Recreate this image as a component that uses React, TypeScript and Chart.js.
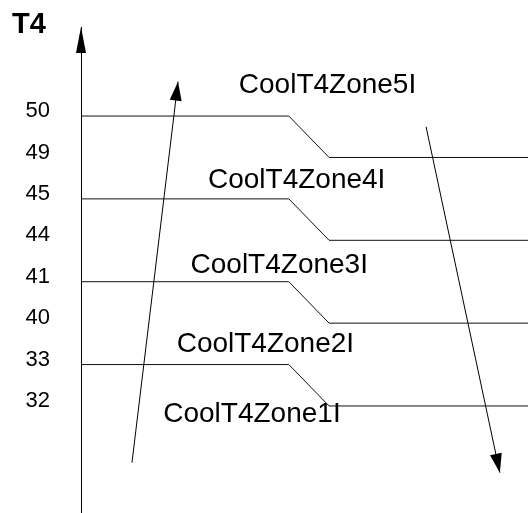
import React, { useEffect, useRef } from 'react';
import { Chart, registerables } from 'chart.js';

Chart.register(...registerables);

// ---- data ----
const tickLabels = ['50', '49', '45', '44', '41', '40', '33', '32'];
const upperLevels = ['50', '45', '41', '33'];
const lowerLevels = ['49', '44', '40', '32'];
const zoneNames = ['CoolT4Zone5I', 'CoolT4Zone4I', 'CoolT4Zone3I', 'CoolT4Zone2I', 'CoolT4Zone1I'];
const axisTitle = 'T4';

// abstract horizontal (time) axis
const X_MIN = 0;
const X_MAX = 100;
const stepStartX = 46.5;
const stepEndX = 55.5;

// rising / falling trend arrows: [x, level-row] start and end
const risingArrow = [
  { x: 11.4, y: 8.37 },
  { x: 21.7, y: -0.83 },
];
const fallingArrow = [
  { x: 77.2, y: 0.26 },
  { x: 93.7, y: 8.61 },
];

// ---- annotation placement (in scale units) ----
const zoneLabelPlacement = [
  { x: 35.3, y: -0.56 },
  { x: 28.4, y: 1.73 },
  { x: 24.5, y: 3.79 },
  { x: 21.4, y: 5.69 },
  { x: 18.4, y: 7.38 },
];

const FONT = "'Liberation Sans', Arial, Helvetica, sans-serif";

const rowOf = (label: string) => tickLabels.indexOf(label);

function drawHead(ctx: CanvasRenderingContext2D, x0: number, y0: number, x1: number, y1: number, len: number, w: number) {
  const dx = x1 - x0;
  const dy = y1 - y0;
  const n = Math.hypot(dx, dy) || 1;
  const ux = dx / n;
  const uy = dy / n;
  const bx = x1 - ux * len;
  const by = y1 - uy * len;
  const px = -uy;
  const py = ux;
  ctx.beginPath();
  ctx.moveTo(x1, y1);
  ctx.lineTo(bx + (px * w) / 2, by + (py * w) / 2);
  ctx.lineTo(bx - (px * w) / 2, by - (py * w) / 2);
  ctx.closePath();
  ctx.fillStyle = '#000';
  ctx.fill();
}

const annotationPlugin = {
  id: 'schematicAnnotations',
  afterDatasetsDraw(chart: any) {
    const { ctx, chartArea } = chart;
    const xs = chart.scales.x;
    const ys = chart.scales.y;
    ctx.save();
    // axis arrowhead
    drawHead(ctx, chartArea.left, chartArea.top + 30, chartArea.left, chartArea.top, 26, 10);
    // trend arrowheads
    chart.data.datasets.forEach((ds: any) => {
      if (!ds.arrowHead) return;
      const pts = ds.data;
      const a = pts[pts.length - 2];
      const b = pts[pts.length - 1];
      drawHead(
        ctx,
        xs.getPixelForValue(a.x),
        ys.getPixelForValue(a.y),
        xs.getPixelForValue(b.x),
        ys.getPixelForValue(b.y),
        19,
        12
      );
    });
    // zone labels
    ctx.fillStyle = '#000';
    ctx.textAlign = 'left';
    ctx.textBaseline = 'alphabetic';
    ctx.font = `28px ${FONT}`;
    zoneNames.forEach((name, i) => {
      const p = zoneLabelPlacement[i];
      ctx.fillText(name, xs.getPixelForValue(p.x), ys.getPixelForValue(p.y));
    });
    // axis title
    ctx.font = `bold 29px ${FONT}`;
    ctx.fillText(axisTitle, 12, 33);
    ctx.restore();
  },
};

export default function App() {
  const canvasRef = useRef<HTMLCanvasElement | null>(null);

  useEffect(() => {
    if (!canvasRef.current) return;

    const thresholdSets = upperLevels.map((up, i) => {
      const lo = lowerLevels[i];
      return {
        label: `${up}/${lo}`,
        data: [
          { x: X_MIN, y: rowOf(up) },
          { x: stepStartX, y: rowOf(up) },
          { x: stepEndX, y: rowOf(lo) },
          { x: X_MAX, y: rowOf(lo) },
        ],
        borderColor: '#111',
        borderWidth: 1,
        pointRadius: 0,
        showLine: true,
        fill: false,
        tension: 0,
      };
    });

    const arrowSets = [risingArrow, fallingArrow].map((pts, i) => ({
      label: i === 0 ? 'rising' : 'falling',
      data: pts,
      borderColor: '#000',
      borderWidth: 1,
      pointRadius: 0,
      showLine: true,
      fill: false,
      tension: 0,
      arrowHead: true,
    }));

    const chart = new Chart(canvasRef.current, {
      type: 'scatter',
      data: { datasets: [...thresholdSets, ...arrowSets] as any },
      options: {
        animation: false,
        responsive: false,
        devicePixelRatio: 1,
        layout: { padding: { top: 27, bottom: 1, left: 0, right: 0 } },
        plugins: {
          legend: { display: false },
          tooltip: { enabled: false },
          title: { display: false },
        },
        scales: {
          x: {
            type: 'linear',
            min: X_MIN,
            max: X_MAX,
            display: false,
          },
          y: {
            type: 'linear',
            min: -2.15,
            max: 9.56,
            reverse: true,
            afterFit: (s: any) => {
              s.width = 81;
              s.paddingTop = 0;
              s.paddingBottom = 0;
            },
            afterBuildTicks: (s: any) => {
              s.ticks = tickLabels.map((_, i) => ({ value: i }));
            },
            grid: { display: false, drawTicks: false },
            border: { display: true, color: '#000', width: 1 },
            ticks: {
              autoSkip: false,
              color: '#000',
              padding: 31,
              labelOffset: -5,
              font: { family: FONT, size: 22 },
              callback: (v: any) => tickLabels[v] ?? '',
            },
          },
        },
      },
      plugins: [annotationPlugin],
    });

    return () => chart.destroy();
  }, []);

  return (
    <div style={{ position: 'fixed', left: 0, top: 0, width: 528, height: 513, background: '#fff' }}>
      <canvas ref={canvasRef} width={528} height={513} style={{ display: 'block' }} />
    </div>
  );
}
